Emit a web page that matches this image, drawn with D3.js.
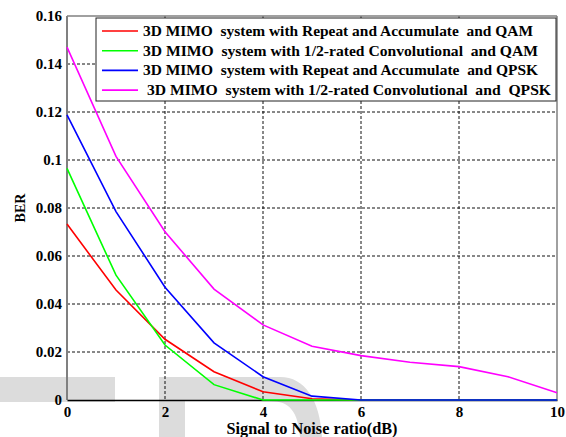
<!DOCTYPE html>
<html>
<head>
<meta charset="utf-8">
<script src="https://cdn.jsdelivr.net/npm/d3@7"></script>
<style>
  body { margin: 0; background: #fff; }
  svg text { font-family: "Liberation Serif", "Times New Roman", serif; font-weight: bold; fill: #000; }
</style>
</head>
<body>
<div id="chart"></div>
<script>
// data
var snr = [0, 1, 2, 3, 4, 5, 6, 7, 8, 9, 10];
var raQam = [0.0733, 0.0458, 0.0253, 0.0118, 0.0034, 0.0005, 0, 0, 0, 0, 0];
var convQam = [0.0965, 0.052, 0.0229, 0.0064, 0, 0, 0, 0, 0, 0, 0];
var raQpsk = [0.1188, 0.0785, 0.047, 0.0238, 0.0097, 0.0016, 0, 0, 0, 0, 0];
var convQpsk = [0.147, 0.1015, 0.0701, 0.0462, 0.0313, 0.0224, 0.0185, 0.0157, 0.0139, 0.0097, 0.003];
var seriesNames = [
  "3D MIMO  system with Repeat and Accumulate  and QAM",
  "3D MIMO  system with 1/2-rated Convolutional  and QAM",
  "3D MIMO  system with Repeat and Accumulate  and QPSK",
  " 3D MIMO  system with 1/2-rated Convolutional  and  QPSK"
];
var seriesColors = ["#ff0000", "#00ff00", "#0000ff", "#ff00ff"];
var xTicks = [0, 2, 4, 6, 8, 10];
var yTicks = [0, 0.02, 0.04, 0.06, 0.08, 0.1, 0.12, 0.14, 0.16];

var margin = {top: 16, right: 9, bottom: 37, left: 67};
var W = 566, H = 437;
var width = W - margin.left - margin.right;
var height = H - margin.top - margin.bottom;

var svg = d3.select("#chart").append("svg")
    .attr("width", W)
    .attr("height", H);

// watermark shapes behind the chart
svg.append("rect")
    .attr("x", 0).attr("y", 377).attr("width", 115).attr("height", 25)
    .attr("fill", "#dcdcdc");
svg.append("path")
    .attr("d", "M159,377 L280,377 C305,377 320,400 322,437 L300,437 C298,412 290,401 270,401 L185,401 L185,437 L159,437 Z")
    .attr("fill", "#dcdcdc");

var g = svg.append("g")
    .attr("transform", "translate(" + margin.left + "," + margin.top + ")");

var x = d3.scaleLinear().domain([0, 10]).range([0, width]);
var y = d3.scaleLinear().domain([0, 0.16]).range([height, 0]);

// grid
g.append("g")
    .selectAll("line.vg")
    .data(xTicks.slice(1, -1))
    .enter().append("line")
    .attr("x1", d => x(d)).attr("x2", d => x(d))
    .attr("y1", 0).attr("y2", height)
    .attr("stroke", "#111").attr("stroke-dasharray", "3,2").attr("stroke-width", 1);
g.append("g")
    .selectAll("line.hg")
    .data(yTicks.slice(1, -1))
    .enter().append("line")
    .attr("x1", 0).attr("x2", width)
    .attr("y1", d => y(d)).attr("y2", d => y(d))
    .attr("stroke", "#111").attr("stroke-dasharray", "3,2").attr("stroke-width", 1);

// frame
g.append("line").attr("x1", 0).attr("x2", width).attr("y1", 0).attr("y2", 0)
    .attr("stroke", "#808080").attr("stroke-width", 1.5);
g.append("line").attr("x1", width).attr("x2", width).attr("y1", 0).attr("y2", height)
    .attr("stroke", "#808080").attr("stroke-width", 1.5);
g.append("line").attr("x1", 0).attr("x2", 0).attr("y1", 0).attr("y2", height)
    .attr("stroke", "#808080").attr("stroke-width", 2);

// axes
var xAxis = g.append("g")
    .attr("transform", "translate(0," + height + ")")
    .call(d3.axisBottom(x).tickValues(xTicks).tickSize(0).tickPadding(6).tickFormat(d3.format("d")));
xAxis.select(".domain").attr("stroke", "#000").attr("stroke-width", 1.5);
xAxis.selectAll("text").style("font-size", "15px");

var yAxis = g.append("g")
    .call(d3.axisLeft(y).tickValues(yTicks).tickSize(0).tickPadding(5)
      .tickFormat(d => d === 0 ? "0" : String(+d.toFixed(2))));
yAxis.select(".domain").remove();
yAxis.selectAll("text").style("font-size", "15px");

// axis titles
svg.append("text")
    .attr("x", 312)
    .attr("y", 434)
    .attr("text-anchor", "middle")
    .style("font-size", "16px")
    .attr("textLength", 171)
    .attr("lengthAdjust", "spacingAndGlyphs")
    .text("Signal to Noise ratio(dB)");
svg.append("text")
    .attr("transform", "translate(25,208) rotate(-90)")
    .attr("text-anchor", "middle")
    .style("font-size", "14px")
    .text("BER");

// lines
var allSeries = [raQam, convQam, raQpsk, convQpsk];
var line = d3.line()
    .x((d, i) => x(snr[i]))
    .y(d => y(d));
allSeries.forEach((s, k) => {
  g.append("path")
    .datum(s)
    .attr("fill", "none")
    .attr("stroke", seriesColors[k])
    .attr("stroke-width", 1.6)
    .attr("d", line);
});

// legend
var lx = 96, ly = 18, lw = 460, lh = 83;
var textWidths = [390, 395, 395, 408];
var legend = svg.append("g");
legend.append("rect")
    .attr("x", lx).attr("y", ly).attr("width", lw).attr("height", lh)
    .attr("fill", "#fff").attr("stroke", "#222").attr("stroke-width", 1);
seriesNames.forEach((name, k) => {
  var yy = ly + 13 + k * 19.7;
  legend.append("line")
    .attr("x1", lx + 6).attr("x2", lx + 42)
    .attr("y1", yy).attr("y2", yy)
    .attr("stroke", seriesColors[k]).attr("stroke-width", 1.6);
  legend.append("text")
    .attr("x", lx + 47).attr("y", yy + 5)
    .style("font-size", "15px")
    .style("white-space", "pre")
    .attr("textLength", textWidths[k])
    .attr("lengthAdjust", "spacingAndGlyphs")
    .text(name);
});
</script>
</body>
</html>
